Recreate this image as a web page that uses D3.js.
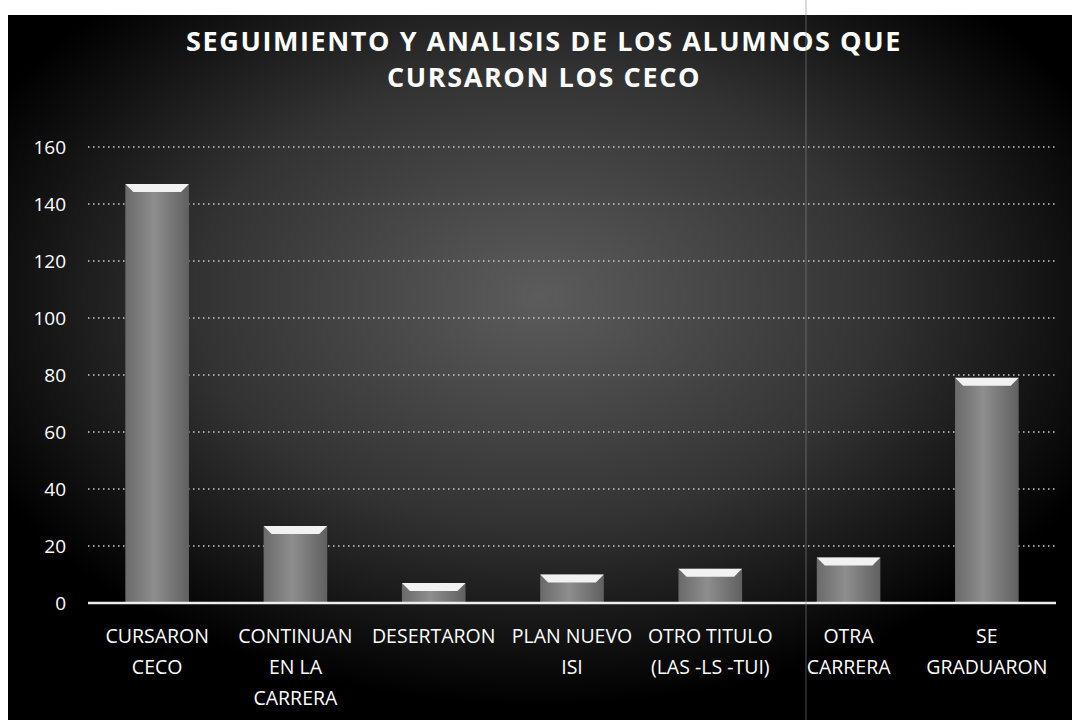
<!DOCTYPE html>
<html lang="en">
<head>
<meta charset="utf-8">
<title>Seguimiento CECO</title>
<script src="https://cdn.jsdelivr.net/npm/d3@7"></script>
<style>
  body { margin: 0; background: #fff; }
  .tick text { fill: #fff; }
  .title { font-family: "Open Sans", sans-serif; font-weight: bold; fill: #fff; }
  .xlab { font-family: "Open Sans", sans-serif; fill: #fff; font-size: 19.5px; }
</style>
</head>
<body>
<script>
// data
var categories = ["CURSARON\nCECO", "CONTINUAN\nEN LA\nCARRERA", "DESERTARON",
                  "PLAN NUEVO\nISI", "OTRO TITULO\n(LAS -LS -TUI)", "OTRA\nCARRERA", "SE\nGRADUARON"];
var values = [147, 27, 7, 10, 12, 16, 79];
var yTicks = [0, 20, 40, 60, 80, 100, 120, 140, 160];
var titleLines = ["SEGUIMIENTO Y ANALISIS DE LOS ALUMNOS QUE", "CURSARON LOS CECO"];

var w = 1072, h = 720;
var margin = {left: 88, right: 16, top: 147, bottom: 117};

var svg = d3.select("body").append("svg")
  .attr("width", w).attr("height", h);

var defs = svg.append("defs");
var bg = defs.append("radialGradient").attr("id", "bg")
  .attr("cx", "50%").attr("cy", "40%").attr("r", "58%");
bg.append("stop").attr("offset", "0%").attr("stop-color", "#5c5c5c");
bg.append("stop").attr("offset", "55%").attr("stop-color", "#333");
bg.append("stop").attr("offset", "100%").attr("stop-color", "#000");

var barGrad = defs.append("linearGradient").attr("id", "bar")
  .attr("x1", "0%").attr("x2", "100%");
barGrad.append("stop").attr("offset", "0%").attr("stop-color", "#6a6a6a");
barGrad.append("stop").attr("offset", "45%").attr("stop-color", "#8e8e8e");
barGrad.append("stop").attr("offset", "100%").attr("stop-color", "#606060");

// chart background
svg.append("rect").attr("x", 8).attr("y", 15)
  .attr("width", w - 8).attr("height", h - 15)
  .attr("fill", "url(#bg)");

var x = d3.scaleBand()
  .domain(categories)
  .range([margin.left, w - margin.right])
  .paddingInner(0.54).paddingOuter(0.27);

var y = d3.scaleLinear()
  .domain([0, 160])
  .range([h - margin.bottom, margin.top]);

// gridlines
svg.append("g").selectAll("line")
  .data(yTicks.filter(function(d) { return d > 0; }))
  .join("line")
  .attr("x1", margin.left).attr("x2", w - margin.right)
  .attr("y1", function(d) { return y(d); })
  .attr("y2", function(d) { return y(d); })
  .attr("stroke", "#ccc")
  .attr("stroke-width", 1.5)
  .attr("stroke-dasharray", "1.5,3.5");

// y axis labels
var yAxis = d3.axisLeft(y).tickValues(yTicks).tickSize(0).tickPadding(0);
svg.append("g")
  .attr("transform", "translate(66,0)")
  .call(yAxis)
  .call(function(g) { g.select(".domain").remove(); })
  .selectAll("text")
  .attr("font-family", "Open Sans, sans-serif")
  .attr("font-size", "19px");

// bars
var bars = svg.append("g").selectAll("g").data(values).join("g");
bars.append("rect")
  .attr("x", function(d, i) { return x(categories[i]); })
  .attr("y", function(d) { return y(d); })
  .attr("width", x.bandwidth())
  .attr("height", function(d) { return y(0) - y(d); })
  .attr("fill", "url(#bar)");
// bright bevelled top
bars.append("path")
  .attr("d", function(d, i) {
    var x0 = x(categories[i]), bw = x.bandwidth(), t = y(d), k = 8;
    return "M" + x0 + "," + t + "L" + (x0 + bw) + "," + t +
      "L" + (x0 + bw - k) + "," + (t + k) + "L" + (x0 + k) + "," + (t + k) + "Z";
  })
  .attr("fill", "#f2f2f2");

// baseline
svg.append("line")
  .attr("x1", margin.left).attr("x2", w - margin.right)
  .attr("y1", y(0)).attr("y2", y(0))
  .attr("stroke", "#eee").attr("stroke-width", 2.5);

// category labels
var xl = svg.append("g").selectAll("text").data(categories).join("text")
  .attr("class", "xlab")
  .attr("text-anchor", "middle")
  .attr("x", function(d) { return x(d) + x.bandwidth() / 2; })
  .attr("y", y(0) + 40);
xl.selectAll("tspan")
  .data(function(d) { return d.split("\n"); })
  .join("tspan")
  .attr("x", function() { var p = this.parentNode; return p.getAttribute("x"); })
  .attr("dy", function(d, i) { return i === 0 ? 0 : 31; })
  .text(function(d) { return d; });

// title
svg.append("g").selectAll("text").data(titleLines).join("text")
  .attr("class", "title")
  .attr("text-anchor", "middle")
  .attr("x", 544)
  .attr("y", function(d, i) { return 51 + i * 36; })
  .attr("font-size", "27px")
  .attr("letter-spacing", "1.6px")
  .text(function(d) { return d; });

// faint vertical fold line from the scan
svg.append("line")
  .attr("x1", 806).attr("x2", 806).attr("y1", 0).attr("y2", h)
  .attr("stroke", "#888").attr("stroke-width", 1).attr("opacity", 0.6);
</script>
</body>
</html>
